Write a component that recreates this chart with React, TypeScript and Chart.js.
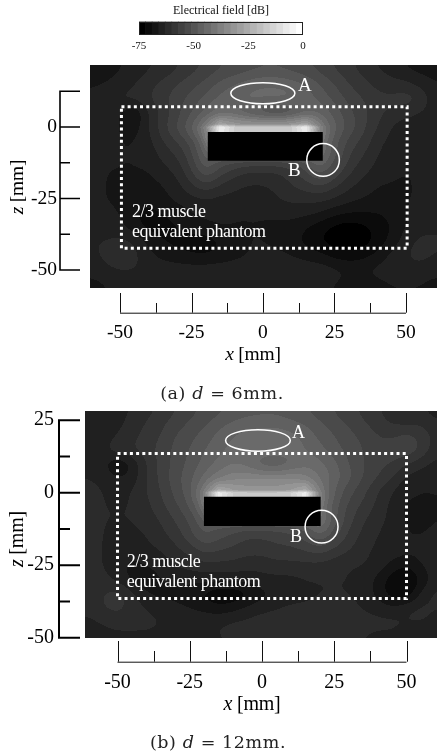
import React, { useEffect, useRef } from "react";
import { Chart, registerables } from "chart.js";

Chart.register(...registerables);

const SERIF = '"Liberation Serif", "Times New Roman", serif';
const CAPTION = '"DejaVu Serif", serif';

// ---- data ----
const colorbarTicks = [-75, -50, -25, 0];
const colorbarCentres = [-73.5, -70.5, -67.5, -64.5, -61.5, -58.5, -55.5, -52.5, -49.5, -46.5, -43.5, -40.5, -37.5, -34.5, -31.5, -28.5, -25.5, -22.5, -19.5, -16.5, -13.5, -10.5, -7.5, -4.5, -1.5];
const colorbarGrays = [0, 11, 21, 32, 43, 53, 64, 74, 85, 96, 106, 117, 128, 138, 149, 159, 170, 181, 191, 202, 213, 223, 234, 244, 255];

const gridX = [-60, -55, -50, -45, -40, -35, -30, -25, -20, -15, -10, -5, 0, 5, 10, 15, 20, 25, 30, 35, 40, 45, 50, 55, 60];

const rowsA = [25, 20, 15, 10, 5, 1, 0, -5, -10, -15, -20, -25, -30, -35, -40, -45, -50, -55, -60];
const fieldA = [
  [-68, -68, -67, -66, -64, -63, -61, -59, -57, -55, -54, -53, -52, -52, -53, -54, -56, -58, -60, -62, -64, -65, -67, -68, -68],
  [-67, -67, -66, -65, -63, -62, -60, -58, -56, -54, -53, -52, -51, -51, -52, -53, -55, -57, -59, -61, -63, -64, -66, -67, -67],
  [-66, -66, -65, -63, -61, -59, -57, -55, -53, -50, -48, -46, -45, -45, -46, -48, -51, -54, -57, -59, -61, -62, -62, -64, -66],
  [-66, -65, -62, -62, -60, -58, -55, -53, -50, -47, -45, -44, -44, -44, -44, -46, -49, -52, -55, -57, -59, -59, -58, -60, -65],
  [-65, -64, -66, -70, -63, -59, -55, -51, -47, -44, -45, -49, -52, -54, -52, -47, -45, -49, -53, -56, -59, -61, -62, -63, -65],
  [-65, -65, -66, -68, -63, -58, -54, -49, -42, -27, -32, -34, -34, -34, -32, -27, -42, -48, -52, -56, -60, -63, -64, -65, -65],
  [-65, -65, -66, -68, -63, -58, -53, -47, -35, -6, -15, -17, -17, -17, -15, -6, -35, -47, -52, -56, -60, -63, -65, -65, -65],
  [-65, -65, -66, -66, -64, -60, -57, -53, -45, -8, -16, -17, -17, -17, -16, -8, -42, -50, -55, -58, -62, -64, -66, -65, -65],
  [-65, -65, -66, -66, -65, -62, -60, -55, -46, -50, -50, -50, -50, -50, -50, -48, -42, -50, -57, -60, -63, -65, -66, -66, -65],
  [-65, -66, -66, -66, -66, -64, -62, -57, -50, -55, -58, -60, -60, -60, -58, -54, -48, -54, -59, -62, -64, -66, -66, -66, -65],
  [-65, -66, -67, -67, -67, -66, -64, -60, -57, -60, -62, -63, -63, -62, -60, -58, -56, -59, -62, -64, -66, -66, -66, -66, -65],
  [-65, -66, -67, -68, -68, -67, -65, -64, -63, -64, -64, -65, -65, -63, -62, -62, -62, -63, -65, -66, -67, -67, -66, -66, -65],
  [-64, -65, -66, -69, -70, -69, -68, -66, -65, -65, -66, -66, -66, -65, -65, -65, -66, -68, -69, -69, -69, -68, -66, -65, -64],
  [-64, -64, -65, -68, -70, -70, -69, -68, -67, -66, -66, -66, -66, -67, -67, -69, -71, -73, -74, -73, -71, -69, -66, -64, -63],
  [-63, -63, -62, -63, -67, -69, -70, -70, -71, -69, -67, -66, -66, -67, -68, -70, -72, -74, -74, -74, -71, -68, -64, -62, -63],
  [-64, -62, -60, -62, -65, -67, -68, -69, -69, -68, -67, -66, -65, -65, -66, -67, -68, -70, -71, -70, -68, -65, -63, -62, -63],
  [-65, -64, -63, -63, -64, -64, -64, -64, -64, -64, -64, -64, -64, -64, -64, -64, -64, -65, -66, -66, -65, -64, -64, -64, -65],
  [-67, -66, -65, -65, -65, -65, -65, -65, -65, -65, -65, -65, -65, -65, -65, -65, -65, -66, -67, -67, -67, -66, -66, -66, -67],
  [-68, -67, -66, -66, -66, -66, -66, -66, -66, -66, -66, -66, -66, -66, -66, -66, -66, -67, -68, -68, -68, -67, -67, -67, -68],
];

const rowsB = [30, 25, 20, 15, 10, 5, 1, 0, -5, -10, -15, -20, -25, -30, -35, -40, -45, -50, -55];
const fieldB = [
  [-66, -66, -65, -63, -62, -60, -58, -56, -54, -53, -52, -51, -50, -50, -51, -52, -54, -55, -57, -58, -60, -62, -63, -64, -65],
  [-66, -66, -64, -62, -60, -58, -56, -54, -52, -50, -48, -47, -47, -47, -48, -49, -51, -53, -55, -57, -59, -61, -62, -61, -63],
  [-66, -65, -63, -61, -59, -57, -54, -52, -50, -47, -45, -44, -43, -43, -44, -46, -49, -51, -53, -55, -57, -58, -56, -58, -61],
  [-65, -64, -60, -60, -58, -56, -53, -51, -48, -46, -44, -42, -42, -42, -43, -45, -47, -50, -52, -54, -56, -55, -54, -57, -62],
  [-64, -65, -70, -66, -60, -56, -53, -50, -47, -44, -42, -44, -48, -49, -46, -43, -44, -47, -51, -54, -56, -57, -60, -62, -64],
  [-63, -64, -66, -65, -60, -56, -52, -49, -44, -40, -37, -36, -36, -36, -36, -38, -42, -46, -50, -54, -57, -60, -64, -65, -65],
  [-62, -63, -64, -63, -60, -57, -53, -49, -41, -26, -30, -32, -32, -32, -30, -26, -41, -48, -53, -56, -60, -63, -65, -66, -66],
  [-62, -63, -64, -63, -60, -57, -53, -49, -37, -7, -15, -17, -17, -17, -15, -7, -37, -48, -53, -56, -60, -63, -65, -66, -66],
  [-62, -63, -63, -63, -61, -58, -55, -51, -44, -8, -16, -17, -17, -17, -16, -8, -42, -50, -55, -58, -61, -64, -67, -67, -66],
  [-62, -63, -63, -63, -62, -60, -57, -54, -48, -50, -50, -50, -50, -50, -50, -48, -40, -50, -56, -60, -62, -64, -66, -67, -66],
  [-62, -63, -64, -64, -63, -61, -59, -55, -51, -53, -55, -57, -57, -56, -55, -53, -48, -53, -58, -61, -63, -65, -66, -66, -65],
  [-62, -63, -65, -65, -64, -63, -61, -59, -56, -57, -58, -59, -59, -58, -58, -57, -56, -58, -60, -62, -64, -64, -65, -65, -64],
  [-62, -63, -65, -67, -66, -65, -63, -62, -61, -61, -61, -62, -62, -61, -61, -61, -61, -62, -63, -63, -64, -67, -69, -66, -64],
  [-61, -62, -64, -67, -68, -66, -65, -65, -65, -65, -65, -65, -64, -64, -64, -63, -63, -63, -63, -64, -67, -71, -73, -69, -64],
  [-61, -60, -58, -62, -66, -67, -67, -68, -70, -72, -72, -70, -67, -66, -65, -64, -63, -63, -63, -64, -67, -71, -72, -65, -62],
  [-62, -60, -59, -61, -63, -64, -65, -66, -67, -68, -67, -65, -64, -63, -62, -62, -62, -62, -62, -63, -64, -65, -63, -62, -63],
  [-64, -63, -62, -62, -62, -63, -63, -63, -63, -63, -62, -62, -61, -61, -61, -61, -61, -61, -62, -62, -62, -62, -63, -63, -64],
  [-65, -64, -64, -64, -64, -64, -64, -64, -64, -63, -63, -63, -63, -63, -63, -63, -63, -63, -63, -63, -64, -64, -65, -65, -65],
  [-66, -65, -65, -65, -65, -65, -65, -65, -65, -64, -64, -64, -64, -64, -64, -64, -64, -64, -64, -64, -65, -65, -66, -66, -66],
];

const xTicks = [-50, -37.5, -25, -12.5, 0, 12.5, 25, 37.5, 50];
const zTicksA = [12.5, 0, -12.5, -25, -37.5, -50];
const zTicksB = [25, 12.5, 0, -12.5, -25, -37.5, -50];

const phantomLabelLines = ["2/3 muscle", "equivalent phantom"];

// ---- panel set-up (layout in canvas pixels, shapes in mm) ----
const panels = [
  {
    top: 55,
    height: 350,
    area: { left: 90, top: 10, xHeight: 117 },
    xRange: [-60.49, 60.84],
    zRange: [-56.3, 21.68],
    rows: rowsA,
    field: fieldA,
    zTicks: zTicksA,
    longZ: [12.5, 0, -25, -50],
    block: { x: [-19.3, 20.9], z: [-1.75, -11.8] },
    phantom: { x: [-49.5, 50.4], z: [7.1, -42.4] },
    ellipse: { x: -0.05, z: 11.8, rx: 11.2, rz: 3.7 },
    circle: { x: 21, z: -11.5, r: 5.7 },
    yAxisX: 60,
    yLabelPad: 33,
    zTickW: 1.6,
    xAxisY: 257.7,
    xTickTop: 238,
    xMinorTop: 248,
    xTitleY: 305,
    xTitleX: 253,
    capY: 344,
    capX: 222,
    capText: ["(a) ", "d", " = 6mm."],
    zTitleY: 132,
    A: { x: 298, y: 35.7, size: 19 },
    B: { x: 288, y: 120.7, size: 19 },
    text: { x: 132, y: [162, 182] },
    xLabelPad: 33,
    fontSize: 19.5,
  },
  {
    top: 405,
    height: 350,
    area: { left: 85, top: 6, xHeight: 117 },
    xRange: [-61.25, 60.55],
    zRange: [-50.1, 28.17],
    rows: rowsB,
    field: fieldB,
    zTicks: zTicksB,
    longZ: [25, 0, -25, -50],
    block: { x: [-20.1, 20.3], z: [-1.4, -11.5] },
    phantom: { x: [-50, 50], z: [13.5, -36.5] },
    ellipse: { x: -1.4, z: 18, rx: 11.2, rz: 3.7 },
    circle: { x: 20.6, z: -11.7, r: 5.7 },
    yAxisX: 59,
    yLabelPad: 31,
    zTickW: 2,
    xAxisY: 256.7,
    xTickTop: 236,
    xMinorTop: 246,
    xTitleY: 305,
    xTitleX: 252,
    capY: 343,
    capX: 218,
    capText: ["(b) ", "d", " = 12mm."],
    zTitleY: 134,
    A: { x: 292, y: 32.7, size: 18 },
    B: { x: 290, y: 136.7, size: 18 },
    text: { x: 126.7, y: [161.7, 182.3] },
    xLabelPad: 33,
    fontSize: 20,
  },
];

// ---- helpers ----
function noPadding(s: any) {
  s.paddingTop = 0;
  s.paddingBottom = 0;
  s.paddingLeft = 0;
  s.paddingRight = 0;
}

function lookup(xs: number[], zs: number[], f: number[][], x: number, z: number) {
  const cx = Math.max(xs[0], Math.min(xs[xs.length - 1], x));
  const cz = Math.min(zs[0], Math.max(zs[zs.length - 1], z));
  let i = 0;
  while (i < xs.length - 2 && xs[i + 1] < cx) i++;
  let j = 0;
  while (j < zs.length - 2 && zs[j + 1] > cz) j++;
  const tx = (cx - xs[i]) / (xs[i + 1] - xs[i]);
  const tz = (cz - zs[j]) / (zs[j + 1] - zs[j]);
  const a = f[j][i] * (1 - tx) + f[j][i + 1] * tx;
  const b = f[j + 1][i] * (1 - tx) + f[j + 1][i + 1] * tx;
  return a * (1 - tz) + b * tz;
}

function fieldGray(v: number) {
  const band = Math.max(0, Math.min(24, Math.floor((v + 75) / 3)));
  return colorbarGrays[band];
}

function boxBlur(src: Float32Array, w: number, h: number, r: number) {
  const tmp = new Float32Array(w * h);
  const out = new Float32Array(w * h);
  for (let y = 0; y < h; y++) {
    for (let x = 0; x < w; x++) {
      let s = 0;
      for (let d = -r; d <= r; d++) s += src[y * w + Math.max(0, Math.min(w - 1, x + d))];
      tmp[y * w + x] = s / (2 * r + 1);
    }
  }
  for (let y = 0; y < h; y++) {
    for (let x = 0; x < w; x++) {
      let s = 0;
      for (let d = -r; d <= r; d++) s += tmp[Math.max(0, Math.min(h - 1, y + d)) * w + x];
      out[y * w + x] = s / (2 * r + 1);
    }
  }
  return out;
}

function drawRuns(ctx: CanvasRenderingContext2D, runs: { t: string; f: string }[], x: number, y: number, spacing = "0px") {
  ctx.save();
  (ctx as any).letterSpacing = spacing;
  ctx.textAlign = "left";
  ctx.textBaseline = "alphabetic";
  let total = 0;
  for (const r of runs) {
    ctx.font = r.f;
    total += ctx.measureText(r.t).width;
  }
  let cx = x - total / 2;
  for (const r of runs) {
    ctx.font = r.f;
    ctx.fillText(r.t, cx, y);
    cx += ctx.measureText(r.t).width;
  }
  ctx.restore();
}

function makePanelPlugin(p: (typeof panels)[number]) {
  return {
    id: "panelDrawing",
    beforeDatasetsDraw(chart: any) {
      const { ctx, chartArea: a, scales } = chart;
      const w = Math.round(a.right - a.left);
      const h = Math.round(a.bottom - a.top);
      const off = document.createElement("canvas");
      off.width = w;
      off.height = h;
      const oc = off.getContext("2d")!;
      const img = oc.createImageData(w, h);
      const raw = new Float32Array(w * h);
      for (let py = 0; py < h; py++) {
        const z = scales.y.getValueForPixel(a.top + py + 0.5);
        for (let px = 0; px < w; px++) {
          const x = scales.x.getValueForPixel(a.left + px + 0.5);
          raw[py * w + px] = lookup(gridX, p.rows, p.field, x, z);
        }
      }
      const soft = boxBlur(boxBlur(raw, w, h, 6), w, h, 6);
      for (let i = 0; i < w * h; i++) {
        const t = Math.max(0, Math.min(1, (raw[i] + 42) / 10));
        const g = fieldGray(soft[i] * (1 - t) + raw[i] * t);
        const k = i * 4;
        img.data[k] = img.data[k + 1] = img.data[k + 2] = g;
        img.data[k + 3] = 255;
      }
      oc.putImageData(img, 0, 0);
      ctx.drawImage(off, a.left, a.top);
    },
    afterDatasetsDraw(chart: any) {
      const { ctx, scales } = chart;
      const X = (v: number) => scales.x.getPixelForValue(v);
      const Y = (v: number) => scales.y.getPixelForValue(v);
      ctx.save();
      // annotation outlines
      ctx.strokeStyle = "#fff";
      ctx.lineWidth = 1.5;
      ctx.beginPath();
      ctx.ellipse(X(p.ellipse.x), Y(p.ellipse.z), X(p.ellipse.x + p.ellipse.rx) - X(p.ellipse.x), Y(p.ellipse.z - p.ellipse.rz) - Y(p.ellipse.z), 0, 0, Math.PI * 2);
      ctx.stroke();
      ctx.beginPath();
      ctx.arc(X(p.circle.x), Y(p.circle.z), X(p.circle.x + p.circle.r) - X(p.circle.x), 0, Math.PI * 2);
      ctx.stroke();
      // annotation text
      ctx.fillStyle = "#fff";
      ctx.textAlign = "left";
      ctx.textBaseline = "alphabetic";
      ctx.font = `${p.A.size}px ${SERIF}`;
      ctx.fillText("A", p.A.x, p.A.y);
      ctx.fillText("B", p.B.x, p.B.y);
      (ctx as any).letterSpacing = "-0.5px";
      ctx.font = `18px ${SERIF}`;
      phantomLabelLines.forEach((t, i) => ctx.fillText(t, p.text.x, p.text.y[i]));
      (ctx as any).letterSpacing = "0px";
      // detached x axis
      ctx.strokeStyle = "#111";
      ctx.lineWidth = 1;
      ctx.beginPath();
      ctx.moveTo(X(xTicks[0]), p.xAxisY + 0.5);
      ctx.lineTo(X(xTicks[xTicks.length - 1]), p.xAxisY + 0.5);
      for (const t of scales.x.ticks) {
        const px = Math.round(X(t.value)) + 0.5;
        ctx.moveTo(px, p.xAxisY);
        ctx.lineTo(px, t.value % 25 === 0 ? p.xTickTop : p.xMinorTop);
      }
      ctx.stroke();
      // detached z axis
      ctx.strokeStyle = "#000";
      ctx.lineWidth = p.zTickW;
      ctx.beginPath();
      const zs = p.zTicks;
      ctx.moveTo(p.yAxisX, Y(zs[0]) - p.zTickW / 2);
      ctx.lineTo(p.yAxisX, Y(zs[zs.length - 1]) + p.zTickW / 2);
      for (const t of scales.y.ticks) {
        const py = Y(t.value);
        ctx.moveTo(p.yAxisX, py);
        ctx.lineTo(p.longZ.includes(t.value) ? 80 : 70, py);
      }
      ctx.stroke();
      // axis titles and caption
      ctx.fillStyle = "#000";
      const fs = p.fontSize;
      drawRuns(ctx, [{ t: "x", f: `italic ${fs}px ${SERIF}` }, { t: " [mm]", f: `${fs}px ${SERIF}` }], p.xTitleX, p.xTitleY, "-0.2px");
      ctx.save();
      ctx.translate(23, p.zTitleY);
      ctx.rotate(-Math.PI / 2);
      drawRuns(ctx, [{ t: "z", f: `italic ${fs}px ${SERIF}` }, { t: " [mm]", f: `${fs}px ${SERIF}` }], 0, 0, "-0.2px");
      ctx.restore();
      ctx.fillStyle = "#222";
      drawRuns(ctx, [
        { t: p.capText[0], f: `17.5px ${CAPTION}` },
        { t: p.capText[1], f: `italic 17.5px ${CAPTION}` },
        { t: p.capText[2], f: `17.5px ${CAPTION}` },
      ], p.capX, p.capY, "0.6px");
      ctx.restore();
    },
  };
}

function panelConfig(p: (typeof panels)[number]) {
  const gridPoints: { x: number; y: number; v: number }[] = [];
  p.rows.forEach((z, j) => gridX.forEach((x, i) => gridPoints.push({ x, y: z, v: p.field[j][i] })));
  const rect = (r: { x: number[]; z: number[] }) => [
    { x: r.x[0], y: r.z[0] },
    { x: r.x[1], y: r.z[0] },
    { x: r.x[1], y: r.z[1] },
    { x: r.x[0], y: r.z[1] },
    { x: r.x[0], y: r.z[0] },
  ];
  const tickFont = { family: SERIF, size: p.fontSize };
  const label = (v: any) => (Number(v) % 25 === 0 ? String(v) : "");
  return {
    type: "scatter" as const,
    data: {
      datasets: [
        { label: "E field", data: gridPoints, pointRadius: 0, showLine: false },
        { label: "waveguide block", data: rect(p.block), showLine: true, fill: "shape", backgroundColor: "#000", borderColor: "#000", borderWidth: 0, pointRadius: 0, tension: 0 },
        { label: "phantom", data: rect(p.phantom), showLine: true, fill: false, borderColor: "#fff", borderWidth: 3, borderDash: [3, 3.2], pointRadius: 0, tension: 0 },
      ],
    },
    options: {
      responsive: false,
      animation: false as const,
      events: [],
      layout: { autoPadding: false, padding: { top: p.area.top, left: 0, right: 0, bottom: 0 } },
      plugins: { legend: { display: false }, tooltip: { enabled: false } },
      scales: {
        x: {
          type: "linear" as const,
          min: p.xRange[0],
          max: p.xRange[1],
          grid: { display: false, drawTicks: false },
          border: { display: false },
          afterBuildTicks: (s: any) => { s.ticks = xTicks.map((value) => ({ value })); },
          afterFit: (s: any) => { s.height = p.area.xHeight; noPadding(s); },
          ticks: { autoSkip: false, maxRotation: 0, padding: p.xLabelPad, color: "#000", font: tickFont, callback: label },
        },
        y: {
          type: "linear" as const,
          min: p.zRange[0],
          max: p.zRange[1],
          grid: { display: false, drawTicks: false },
          border: { display: false },
          afterBuildTicks: (s: any) => { s.ticks = p.zTicks.map((value) => ({ value })); },
          afterFit: (s: any) => { s.width = p.area.left; noPadding(s); },
          ticks: {
            autoSkip: false,
            padding: p.yLabelPad,
            color: "#000",
            font: tickFont,
            callback: (v: any) => (v === 12.5 ? "" : label(v)),
          },
        },
      },
    },
    plugins: [makePanelPlugin(p)],
  };
}

function colorbarConfig() {
  return {
    type: "bar" as const,
    data: {
      datasets: [
        {
          label: "scale",
          data: colorbarCentres.map((x) => ({ x, y: 1 })),
          backgroundColor: colorbarGrays.map((g) => `rgb(${g},${g},${g})`),
          borderWidth: 0,
          barPercentage: 1,
          categoryPercentage: 1,
        },
      ],
    },
    options: {
      responsive: false,
      animation: false as const,
      events: [],
      layout: { autoPadding: false, padding: { left: 139, right: 134, top: 0, bottom: 0 } },
      plugins: {
        legend: { display: false },
        tooltip: { enabled: false },
        title: {
          display: true,
          text: "Electrical field [dB]",
          color: "#111",
          font: { family: SERIF, size: 12, weight: "normal" as const, lineHeight: 1.2 },
          padding: { top: 4, bottom: 3.1 },
        },
      },
      scales: {
        x: {
          type: "linear" as const,
          min: -75,
          max: 0,
          offset: false,
          grid: { display: false, drawTicks: false },
          border: { display: false },
          afterBuildTicks: (s: any) => { s.ticks = colorbarTicks.map((value) => ({ value })); },
          afterFit: (s: any) => { s.height = 26; noPadding(s); },
          ticks: { autoSkip: false, maxRotation: 0, padding: 6, color: "#111", font: { family: SERIF, size: 11 } },
        },
        y: { type: "linear" as const, min: 0, max: 1, display: false },
      },
    },
    plugins: [
      {
        id: "barFrame",
        afterDatasetsDraw(chart: any) {
          const { ctx, chartArea: a } = chart;
          ctx.save();
          ctx.strokeStyle = "#222";
          ctx.lineWidth = 1;
          ctx.strokeRect(Math.round(a.left) + 0.5, Math.round(a.top) + 0.5, Math.round(a.right - a.left) - 1, Math.round(a.bottom - a.top) - 1);
          ctx.restore();
        },
      },
    ],
  };
}

function ChartCanvas({ config, top, height }: { config: () => any; top: number; height: number }) {
  const ref = useRef<HTMLCanvasElement>(null);
  useEffect(() => {
    const chart = new Chart(ref.current!, config());
    return () => chart.destroy();
  }, []);
  return <canvas ref={ref} width={437} height={height} style={{ position: "absolute", left: 0, top, width: 437, height, display: "block" }} />;
}

export default function App() {
  useEffect(() => {
    document.body.style.margin = "0";
  }, []);
  return (
    <div style={{ position: "absolute", left: 0, top: 0, width: 437, height: 755, overflow: "hidden", background: "#fff" }}>
      <ChartCanvas config={colorbarConfig} top={0} height={60} />
      <ChartCanvas config={() => panelConfig(panels[0])} top={panels[0].top} height={panels[0].height} />
      <ChartCanvas config={() => panelConfig(panels[1])} top={panels[1].top} height={panels[1].height} />
    </div>
  );
}
